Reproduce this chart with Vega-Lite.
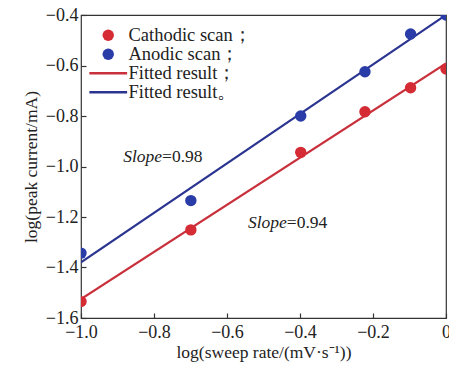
{
  "$schema": "https://vega.github.io/schema/vega-lite/v6.json",
  "width": 365,
  "height": 303,
  "autosize": {"type": "none"},
  "padding": {"left": 81, "top": 15, "right": 3, "bottom": 47},
  "background": "white",
  "config": {
    "font": "Liberation Serif",
    "view": {"stroke": "#333333", "strokeWidth": 1.2},
    "axis": {
      "labelFont": "Liberation Serif",
      "titleFont": "Liberation Serif",
      "labelFontSize": 18,
      "titleFontSize": 17.5,
      "labelColor": "#222222",
      "titleColor": "#222222",
      "titleFontWeight": "normal",
      "labelFlush": false,
      "labelOverlap": false,
      "domain": false,
      "grid": false,
      "tickColor": "#333333",
      "tickSize": -5,
      "tickWidth": 1.2
    },
    "legend": {
      "labelFont": "Liberation Serif"
    }
  },
  "datasets": {
    "measured": [
      {"logv": -1.0, "logi": -1.343, "series": "Anodic scan；"},
      {"logv": -0.699, "logi": -1.135, "series": "Anodic scan；"},
      {"logv": -0.398, "logi": -0.80, "series": "Anodic scan；"},
      {"logv": -0.222, "logi": -0.625, "series": "Anodic scan；"},
      {"logv": -0.097, "logi": -0.475, "series": "Anodic scan；"},
      {"logv": 0.0, "logi": -0.40, "series": "Anodic scan；"},
      {"logv": -1.0, "logi": -1.535, "series": "Cathodic scan；"},
      {"logv": -0.699, "logi": -1.251, "series": "Cathodic scan；"},
      {"logv": -0.398, "logi": -0.944, "series": "Cathodic scan；"},
      {"logv": -0.222, "logi": -0.783, "series": "Cathodic scan；"},
      {"logv": -0.097, "logi": -0.688, "series": "Cathodic scan；"},
      {"logv": 0.0, "logi": -0.614, "series": "Cathodic scan；"}
    ],
    "fits": [
      {"logv": -1.0, "logi": -1.38, "series": "Fitted result。"},
      {"logv": 0.0, "logi": -0.40, "series": "Fitted result。"},
      {"logv": -1.0, "logi": -1.525, "series": "Fitted result；"},
      {"logv": 0.0, "logi": -0.592, "series": "Fitted result；"}
    ],
    "slopes": [
      {"logv": -0.778, "logi": -0.962, "name": "Slope", "value": "=0.98"},
      {"logv": -0.436, "logi": -1.224, "name": "Slope", "value": "=0.94"}
    ]
  },
  "encoding": {
    "x": {
      "field": "logv",
      "type": "quantitative",
      "scale": {"domain": [-1.0, 0.0], "nice": false, "zero": false},
      "axis": {
        "title": "log(sweep rate/(mV·s⁻¹))",
        "values": [-1.0, -0.8, -0.6, -0.4, -0.2, 0],
        "labelExpr": "datum.value === 0 ? '0' : format(datum.value, '.1f')",
        "labelPadding": 10,
        "titlePadding": 2
      }
    },
    "y": {
      "field": "logi",
      "type": "quantitative",
      "scale": {"domain": [-1.6, -0.4], "nice": false, "zero": false},
      "axis": {
        "title": "log(peak current/mA)",
        "values": [-1.6, -1.4, -1.2, -1.0, -0.8, -0.6, -0.4],
        "format": ".1f",
        "labelPadding": 8,
        "titlePadding": 5
      }
    }
  },
  "layer": [
    {
      "data": {"name": "fits"},
      "mark": {"type": "line", "strokeWidth": 2.2, "clip": true},
      "encoding": {
        "color": {
          "field": "series",
          "type": "nominal",
          "scale": {
            "domain": ["Cathodic scan；", "Anodic scan；", "Fitted result；", "Fitted result。"],
            "range": ["#d42b35", "#2a3ca8", "#c8303c", "#2b3590"]
          }
        }
      }
    },
    {
      "data": {"name": "measured"},
      "mark": {"type": "point", "filled": true, "size": 130, "opacity": 1, "clip": true},
      "encoding": {
        "color": {
          "field": "series",
          "type": "nominal",
          "scale": {
            "domain": ["Cathodic scan；", "Anodic scan；", "Fitted result；", "Fitted result。"],
            "range": ["#d42b35", "#2a3ca8", "#c8303c", "#2b3590"]
          },
          "legend": {
            "title": null,
            "orient": "none",
            "legendX": 18,
            "legendY": 11,
            "padding": 0,
            "labelFont": "Liberation Serif",
            "labelFontSize": 18.5,
            "labelColor": "#222222",
            "symbolSize": 130,
            "rowPadding": -2.5,
            "labelOffset": 11,
            "symbolOpacity": 1,
            "encode": {
              "symbols": {
                "update": {
                  "shape": {"signal": "indexof(['Fitted result；', 'Fitted result。'], datum.value) >= 0 ? 'M-3.6,0H3.6' : 'circle'"},
                  "size": {"signal": "indexof(['Fitted result；', 'Fitted result。'], datum.value) >= 0 ? 110 : 130"},
                  "stroke": {"scale": "color", "field": "value"},
                  "strokeWidth": {"signal": "indexof(['Fitted result；', 'Fitted result。'], datum.value) >= 0 ? 2.4 : 0"},
                  "fill": {"signal": "indexof(['Fitted result；', 'Fitted result。'], datum.value) >= 0 ? 'transparent' : scale('color', datum.value)"}
                }
              }
            }
          }
        }
      }
    },
    {
      "data": {"name": "slopes"},
      "mark": {"type": "text", "align": "right", "baseline": "middle", "font": "Liberation Serif", "fontStyle": "italic", "fontSize": 17.5, "color": "#222222"},
      "encoding": {"text": {"field": "name"}}
    },
    {
      "data": {"name": "slopes"},
      "mark": {"type": "text", "align": "left", "baseline": "middle", "font": "Liberation Serif", "fontSize": 17.5, "color": "#222222"},
      "encoding": {"text": {"field": "value"}}
    }
  ]
}
